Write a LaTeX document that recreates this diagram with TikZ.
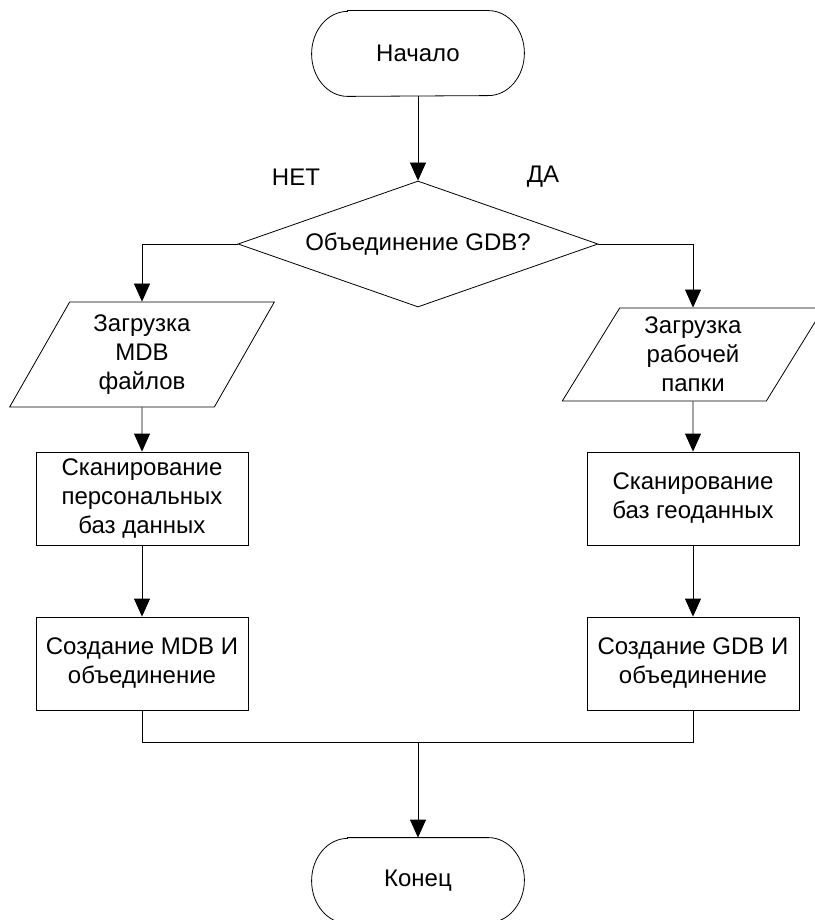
\documentclass[tikz,border=0pt]{standalone}
\usepackage{fontspec}
\setmainfont{Liberation Sans}
\usetikzlibrary{arrows.meta}
\usetikzlibrary{shapes.geometric}
\usetikzlibrary{positioning}

\begin{document}
\begin{tikzpicture}[on grid, line width=0.8pt, >={Triangle[length=18pt,width=16pt]},
    every node/.style={align=center, font=\fontsize{24}{29}\selectfont},
    term/.style={minimum width=212pt, minimum height=85pt},
    cond/.style={draw, diamond, aspect=2.86, minimum width=360pt, minimum height=126pt, inner sep=0pt},
    io/.style={draw, trapezium, trapezium left angle=63.4, trapezium right angle=116.6,
        trapezium stretches=true, inner sep=2pt},
    box/.style={draw, minimum width=212pt, minimum height=93pt, inner sep=2pt}]
            \useasboundingbox (-418pt,53.5pt) rectangle (396pt,-866.5pt);

            \node[term] (start) {Начало};
            \node[cond, below=190.5pt of start] (dec) {Объединение GDB?};
            \node[above left=67pt and 122pt of dec] (no) {НЕТ};
            \node[above right=67pt and 125pt of dec] (yes) {ДА};
            \node[io, minimum width=265pt, minimum height=105pt, below left=110.5pt and 276pt of dec] (l1) {Загрузка\\MDB\\файлов};
            \node[io, minimum width=262pt, minimum height=93pt, below right=110.5pt and 275pt of dec] (r1) {Загрузка\\рабочей\\папки};
            \node[box, below=144pt of l1] (l2) {Сканирование\\персональных\\баз данных};
            \node[box, below=144pt of r1] (r2) {Сканирование\\баз геоданных};
            \node[box, below=165pt of l2] (l3) {Создание MDB И\\объединение};
            \node[box, below=165pt of r2] (r3) {Создание GDB И\\объединение};
            \node[term, below=636.5pt of dec] (finish) {Конец};
            \coordinate[below=78.5pt of l3] (m);
            \coordinate (mc) at (m -| dec);

            % terminal outlines
            \foreach \t in {start,finish}
                \draw ([xshift=36pt]\t.north west) -- ([xshift=-36pt]\t.north east)
                    arc[start angle=90, end angle=-90, x radius=36pt, y radius=42.5pt]
                    -- ([xshift=36pt]\t.south west)
                    arc[start angle=270, end angle=90, x radius=36pt, y radius=42.5pt] -- cycle;

            \path[->] (start) edge (dec)
                    (l1) edge (l2)
                    (l2) edge (l3)
                    (r1) edge (r2)
                    (r2) edge (r3)
                    (mc) edge (finish)
                    ;
            \draw[->] (dec.west) -| (l1);
            \draw[->] (dec.east) -| (r1);
            \draw (l3) -- (m) -| (r3);
        \end{tikzpicture}
\end{document}
